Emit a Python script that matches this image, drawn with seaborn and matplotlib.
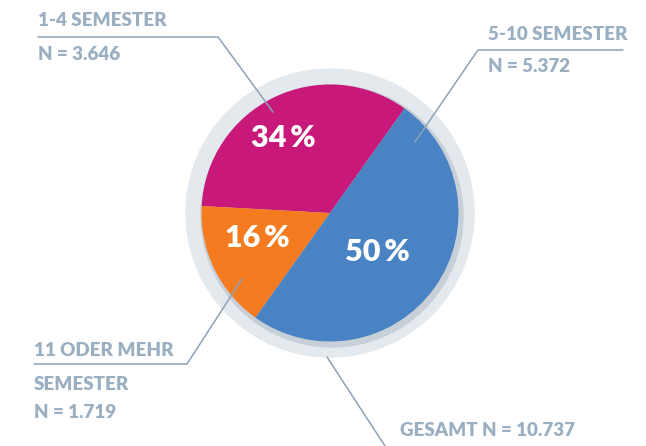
import numpy as np
import matplotlib
matplotlib.use("Agg")
import matplotlib.pyplot as plt
import seaborn as sns
from matplotlib.patches import Circle

# Daten
gruppen = ["1-4 SEMESTER", "11 ODER MEHR SEMESTER", "5-10 SEMESTER"]
anteile = [34, 16, 50]
farben = ["#C8197A", "#F47B20", "#4A83C4"]
anzahl = ["3.646", "1.719", "5.372"]
gesamt = "10.737"

sns.set_theme(style="white")
plt.rcParams["font.family"] = ["Lato", "DejaVu Sans"]

W, H = 646, 446
fig = plt.figure(figsize=(W / 100, H / 100), dpi=100)
ax = fig.add_axes([0, 0, 1, 1])

cx, cy, r = 330, H - 213, 128.5
txt = "#9AAFC2"; linie = "#8EA2B6"

# Ring + Schatten
ax.add_patch(Circle((cx, cy), 144, color="#E4E9ED", zorder=1))
ax.add_patch(Circle((cx + 2, cy - 3), 131, color="#C7D0D8", zorder=2))

ax.pie(anteile, colors=farben, startangle=54.5, counterclock=True,
       center=(cx, cy), radius=r, frame=True,
       wedgeprops={"linewidth": 0, "zorder": 3})
ax.set_xlim(0, W); ax.set_ylim(0, H); ax.set_aspect("equal"); ax.set_axis_off()

# Prozentwerte
pos = [(283, 138), (257, 238), (377, 252)]
for (x, y), a in zip(pos, anteile):
    ax.text(x, H - y, f"{a}\u2009%", color="white", fontsize=22, fontweight="heavy",
            ha="center", va="center", zorder=5)

# Fuehrungslinien (Bildkoordinaten)
def lin(pts):
    xs = [p[0] for p in pts]; ys = [H - p[1] for p in pts]
    ax.plot(xs, ys, color=linie, lw=1.1, zorder=6)

lin([(38, 37), (218, 37), (273, 112)])
lin([(623, 50), (478, 50), (415, 142)])
lin([(34, 364), (187, 364), (242, 279)])
lin([(327, 357), (385, 446)])

fs = 13.5
def t(x, y, s, ha="left"):
    ax.text(x, H - y, s, color=txt, fontsize=fs, fontweight="heavy", ha=ha, va="center", zorder=6)

t(38, 20, gruppen[0])
t(38, 54, f"N = {anzahl[0]}")
t(488, 34, gruppen[2])
t(488, 67, f"N = {anzahl[2]}")
t(34, 350, "11 ODER MEHR")
t(34, 384, "SEMESTER")
t(34, 413, f"N = {anzahl[1]}")
t(400, 430, f"GESAMT N = {gesamt}")

fig.savefig("out.png", dpi=100)
